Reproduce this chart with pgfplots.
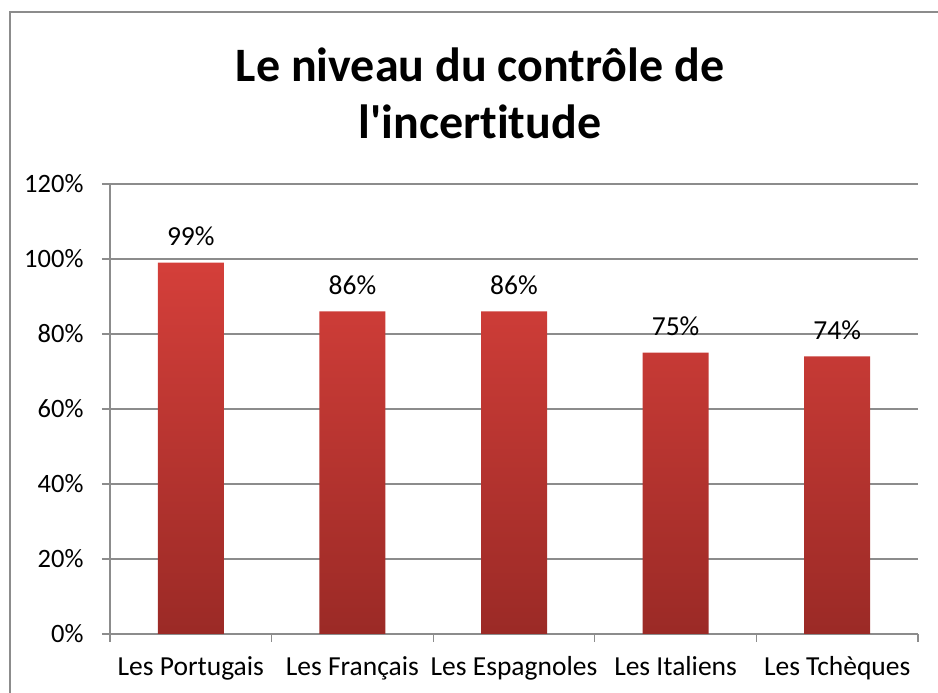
\documentclass[border=0pt]{standalone}
\usepackage{pgfplots}
\pgfplotsset{compat=1.18}
\usepackage{fontspec}
\setmainfont{Carlito}[Ligatures={TeXOff,NoCommon}]
\definecolor{gridgray}{HTML}{8C8C8C}
\definecolor{bartop}{HTML}{D43F3A}
\definecolor{barbot}{HTML}{9B2A26}
\begin{document}
\begin{tikzpicture}[x=1pt,y=1pt]
\useasboundingbox (0,0) rectangle (938,693);
\draw[gridgray, line width=1.5pt] (10,-5) -- (10,681) -- (945,681);
\node[align=center, font=\bfseries\fontsize{48}{57}\selectfont] at (480,600) {Le niveau du contrôle de\\l'incertitude};
\begin{axis}[
  at={(110pt,59pt)}, anchor=south west,
  scale only axis, width=808pt, height=450pt,
  xmin=-0.5, xmax=4.5, ymin=0, ymax=120,
  axis lines*=left,
  axis line style={gridgray, line width=1.2pt},
  ytick={0,20,...,120},
  yticklabel={\pgfmathprintnumber{\tick}\%},
  ymajorgrids, grid style={gridgray, line width=1.2pt},
  xtick={0,1,2,3,4},
  xticklabels={Les Portugais,Les Français,Les Espagnoles,Les Italiens,Les Tchèques},
  major x tick style={draw=none},
  extra x ticks={-0.5,0.5,1.5,2.5,3.5,4.5},
  extra x tick labels={},
  extra x tick style={grid=none, major x tick style={draw=gridgray, line width=1.2pt}},
  tick align=outside, major tick length=8pt,
  major y tick style={draw=gridgray, line width=1.2pt},
  ticklabel style={font=\fontsize{27.5}{32}\selectfont},
  yticklabel style={xshift=-15pt, font=\fontsize{26.5}{32}\selectfont},
  xticklabel style={yshift=-11pt},
  /pgf/number format/assume math mode=true,
  nodes near coords={\pgfmathprintnumber{\pgfplotspointmeta}\%},
  nodes near coords style={font=\fontsize{27.5}{32}\selectfont, yshift=13pt},
]
\addplot[ybar, bar width=66pt, draw=none, top color=bartop, bottom color=barbot]
  coordinates {(0,99) (1,86) (2,86) (3,75) (4,74)};
\end{axis}
\end{tikzpicture}
\end{document}
